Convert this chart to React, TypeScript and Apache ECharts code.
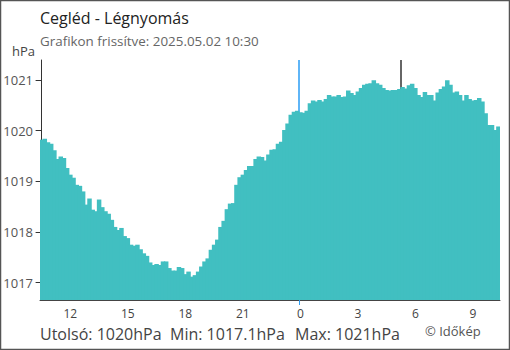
import { useEffect, useRef } from 'react';
import * as echarts from 'echarts';

const titleText = 'Cegléd - Légnyomás';
const subtitleText = 'Grafikon frissítve: 2025.05.02 10:30';
const unitText = 'hPa';
const lastText = 'Utolsó: 1020hPa';
const minText = 'Min: 1017.1hPa';
const maxText = 'Max: 1021hPa';
const creditText = '© Időkép';

const yTicks = [1017, 1018, 1019, 1020, 1021];
const xLabelHours = [12, 15, 18, 21, 0, 3, 6, 9];
const markerTimes = ['00:00', '05:20'];
const markerColors = ['#2a9df4', '#333333'];

// 10-minute readings from 10:30 to 10:20 next day
const pressure = [
  1019.82, 1019.84, 1019.77, 1019.74, 1019.61, 1019.44, 1019.49, 1019.46, 1019.26, 1019.13,
  1019.07, 1018.93, 1018.91, 1018.80, 1018.54, 1018.66, 1018.44, 1018.41, 1018.64, 1018.49,
  1018.41, 1018.36, 1018.24, 1018.10, 1018.04, 1018.08, 1017.92, 1017.88, 1017.75, 1017.73,
  1017.75, 1017.66, 1017.58, 1017.53, 1017.40, 1017.35, 1017.37,
  1017.35, 1017.42, 1017.42, 1017.29, 1017.24, 1017.24, 1017.31, 1017.29, 1017.17, 1017.22,
  1017.12, 1017.15, 1017.22, 1017.32, 1017.42, 1017.48, 1017.65, 1017.75, 1017.85, 1018.10,
  1018.22, 1018.45, 1018.56, 1018.57, 1018.93, 1019.08, 1019.13, 1019.22, 1019.30, 1019.30,
  1019.44, 1019.49, 1019.48, 1019.41, 1019.53, 1019.62, 1019.63,
  1019.74, 1019.78, 1020.01, 1020.14, 1020.31, 1020.37, 1020.39, 1020.36, 1020.35, 1020.39,
  1020.54, 1020.59, 1020.57, 1020.60, 1020.57, 1020.62, 1020.70, 1020.67, 1020.67, 1020.70,
  1020.66, 1020.67, 1020.79, 1020.74, 1020.70, 1020.77, 1020.84, 1020.90, 1020.92, 1020.93,
  1020.99, 1020.93, 1020.90, 1020.84, 1020.80, 1020.79,
  1020.80, 1020.80, 1020.82, 1020.86, 1020.83, 1020.89, 1020.92, 1020.84, 1020.70, 1020.66,
  1020.76, 1020.70, 1020.70, 1020.59, 1020.75, 1020.82, 1020.87, 1020.99, 1020.90, 1020.75,
  1020.77, 1020.70, 1020.59, 1020.70, 1020.62, 1020.59, 1020.60, 1020.64, 1020.57, 1020.34,
  1020.11, 1020.11, 1020.01, 1020.08,
];

const startMinutes = 10 * 60 + 30;
const stepMinutes = 10;
const pad = (n: number) => (n < 10 ? '0' + n : '' + n);
const times = pressure.map((_, i) => {
  const m = (startMinutes + i * stepMinutes) % 1440;
  return pad(Math.floor(m / 60)) + ':' + pad(m % 60);
});
const labelTimes = xLabelHours.map((h) => pad(h) + ':00');

const FONT = '"Open Sans", "Noto Sans", sans-serif';
const BAR = '#41bfc1';

export default function App() {
  const ref = useRef<HTMLDivElement>(null);
  useEffect(() => {
    if (!ref.current) return;
    const chart = echarts.init(ref.current, null, { renderer: 'svg' });
    const markerPos = markerTimes.map((t) => times.indexOf(t) - 0.5);
    const midnightIdx = times.indexOf('00:00');
    chart.setOption({
      animation: false,
      textStyle: { fontFamily: FONT },
      grid: { left: 40, right: 10, top: 60, bottom: 50 },
      xAxis: [
        {
          type: 'category',
          data: times,
          boundaryGap: true,
          z: 3,
          axisLine: { lineStyle: { color: '#444', width: 1 } },
          axisTick: {
            length: 5,
            lineStyle: { color: '#444' },
            interval: (i: number, v: string) =>
              i === 0 || (labelTimes.includes(v) && v !== '00:00'),
          },
          axisLabel: {
            interval: (_i: number, v: string) => labelTimes.includes(v),
            formatter: (v: string) => String(parseInt(v.slice(0, 2), 10)),
            color: '#444',
            fontSize: 12,
            margin: 7,
            fontFamily: FONT,
          },
          splitLine: { show: false },
        },
        {
          type: 'value',
          min: -0.5,
          max: pressure.length - 0.5,
          position: 'bottom',
          z: 3,
          axisLine: { show: false },
          axisLabel: { show: false },
          splitLine: { show: false },
          axisTick: {
            show: true,
            length: 5,
            customValues: [midnightIdx - 0.5],
            lineStyle: { color: markerColors[0], width: 1 },
          },
        },
      ],
      yAxis: {
        type: 'value',
        min: 1016.66,
        max: 1021.39,
        z: 0,
        axisLine: { show: true, lineStyle: { color: '#333', width: 1 } },
        axisTick: { show: true, length: 6, customValues: yTicks, lineStyle: { color: '#333' } },
        axisLabel: {
          customValues: yTicks,
          formatter: (v: number) => String(v),
          color: '#555',
          fontSize: 13,
          margin: 7,
          fontFamily: FONT,
        },
        splitLine: { show: false },
      },
      series: [
        {
          type: 'line',
          xAxisIndex: 1,
          data: [],
          z: 1,
          silent: true,
          markLine: {
            silent: true,
            z: 1,
            symbol: 'none',
            label: { show: false },
            data: markerPos.map((p, k) => ({
              xAxis: p,
              lineStyle: { color: markerColors[k], width: 1.5, type: 'solid' },
            })),
          },
        },
        {
          type: 'bar',
          data: pressure,
          z: 2,
          barWidth: 4.5,
          barGap: '-100%',
          itemStyle: { color: BAR },
          silent: true,
        },
      ],
      graphic: [
        {
          type: 'rect',
          silent: true,
          shape: { x: 0.5, y: 0.5, width: 509, height: 349 },
          style: { fill: 'none', stroke: '#555', lineWidth: 1.5 },
        },
        {
          type: 'text',
          x: 40,
          y: 18,
          style: { text: titleText, font: '16px ' + FONT, fill: '#222', textAlign: 'left', textVerticalAlign: 'middle' },
        },
        {
          type: 'text',
          x: 40,
          y: 40.5,
          style: { text: subtitleText, font: '13.4px ' + FONT, fill: '#666', textAlign: 'left', textVerticalAlign: 'middle' },
        },
        {
          type: 'text',
          x: 35,
          y: 50.5,
          style: { text: unitText, font: '13px ' + FONT, fill: '#444', textAlign: 'right', textVerticalAlign: 'middle' },
        },
        {
          type: 'text',
          x: 40,
          y: 334,
          style: { text: lastText, font: '16px ' + FONT, fill: '#444', textAlign: 'left', textVerticalAlign: 'middle' },
        },
        {
          type: 'text',
          x: 170,
          y: 334,
          style: { text: minText, font: '16px ' + FONT, fill: '#444', textAlign: 'left', textVerticalAlign: 'middle' },
        },
        {
          type: 'text',
          x: 295,
          y: 334,
          style: { text: maxText, font: '16px ' + FONT, fill: '#444', textAlign: 'left', textVerticalAlign: 'middle' },
        },
        {
          type: 'text',
          x: 425,
          y: 331,
          style: { text: creditText, font: '13px ' + FONT, fill: '#555', textAlign: 'left', textVerticalAlign: 'middle' },
        },
      ],
    });
    return () => chart.dispose();
  }, []);
  return (
    <div
      ref={ref}
      style={{ position: 'absolute', left: 0, top: 0, width: 510, height: 350, background: '#fff' }}
    />
  );
}
